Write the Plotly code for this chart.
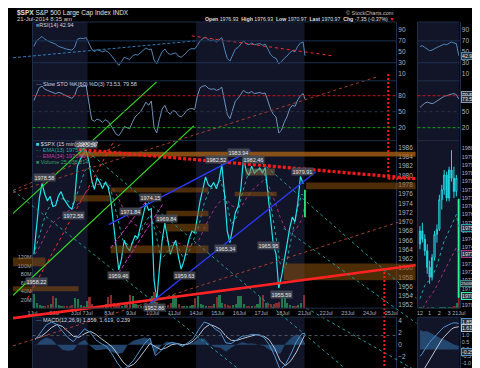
import plotly.graph_objects as go

W, H = 480, 368

# ---------------- data ----------------
session_labels = ["1Jul", "2Jul", "3Jul", "7Jul", "8Jul", "9Jul", "10Jul", "11Jul", "14Jul",
                  "15Jul", "16Jul", "17Jul", "18Jul", "21Jul", "22Jul", "23Jul", "24Jul", "25Jul"]
session_hours = [6.5, 6.5, 3.5, 6.5, 6.5, 6.5, 6.5, 6.5, 6.5, 6.5, 6.5, 6.5, 6.5, 6.5, 6.5, 6.5, 6.5, 6.5]
traded = session_labels[:13]

price_by_day = {
    "1Jul": [1963.0, 1969.5, 1975.0, 1978.3, 1976.0, 1974.5, 1975.5, 1973.3],
    "2Jul": [1973.5, 1975.5, 1976.5, 1975.0, 1974.0, 1973.2, 1972.7, 1974.6],
    "3Jul": [1982.0, 1983.5, 1984.5, 1985.4],
    "7Jul": [1983.0, 1979.0, 1977.0, 1979.5, 1978.5, 1977.2, 1978.5, 1977.6],
    "8Jul": [1975.0, 1970.0, 1964.0, 1959.6, 1962.0, 1966.0, 1964.5, 1963.7],
    "9Jul": [1965.5, 1967.0, 1966.5, 1969.0, 1971.0, 1974.0, 1972.5, 1972.8],
    "10Jul": [1957.5, 1953.0, 1960.0, 1966.0, 1969.7, 1966.0, 1963.0, 1964.7],
    "11Jul": [1966.0, 1962.5, 1959.8, 1961.5, 1964.0, 1966.5, 1968.0, 1967.6],
    "14Jul": [1971.0, 1974.5, 1977.0, 1979.7, 1978.0, 1977.5, 1978.5, 1977.1],
    "15Jul": [1979.0, 1982.4, 1976.0, 1968.0, 1965.5, 1969.0, 1972.0, 1973.3],
    "16Jul": [1977.0, 1983.8, 1981.0, 1980.0, 1982.0, 1980.5, 1981.0, 1981.6],
    "17Jul": [1980.5, 1981.7, 1976.0, 1970.0, 1965.0, 1963.0, 1955.7, 1958.1],
    "18Jul": [1962.0, 1965.0, 1968.5, 1971.0, 1970.0, 1974.0, 1979.8, 1978.2],
}
volume_by_day = {  # millions
    "1Jul": [34, 12, 8, 7, 6, 8, 11, 30],
    "2Jul": [26, 9, 6, 5, 5, 6, 9, 24],
    "3Jul": [22, 8, 6, 18],
    "7Jul": [28, 10, 7, 6, 6, 7, 10, 27],
    "8Jul": [32, 14, 10, 9, 7, 8, 12, 33],
    "9Jul": [30, 11, 8, 6, 6, 7, 10, 29],
    "10Jul": [38, 16, 10, 8, 7, 8, 12, 31],
    "11Jul": [29, 10, 7, 6, 6, 6, 9, 26],
    "14Jul": [30, 11, 8, 6, 6, 7, 10, 27],
    "15Jul": [32, 13, 10, 9, 7, 8, 11, 30],
    "16Jul": [30, 11, 7, 6, 6, 7, 10, 28],
    "17Jul": [31, 12, 10, 11, 10, 12, 16, 36],
    "18Jul": [34, 13, 9, 7, 7, 8, 12, 32],
}
rsi_by_day = {
    "1Jul": [60, 70, 74, 78, 73, 70, 68, 66],
    "2Jul": [64, 60, 58, 56, 55, 54, 53, 58],
    "3Jul": [73, 75, 74, 76],
    "7Jul": [65, 55, 50, 54, 52, 50, 52, 50],
    "8Jul": [45, 38, 30, 25, 32, 40, 38, 36],
    "9Jul": [42, 45, 44, 48, 52, 57, 54, 55],
    "10Jul": [35, 28, 40, 50, 55, 48, 45, 47],
    "11Jul": [48, 42, 40, 44, 50, 54, 56, 55],
    "14Jul": [62, 70, 74, 77, 72, 70, 72, 68],
    "15Jul": [72, 76, 55, 38, 33, 45, 55, 58],
    "16Jul": [64, 70, 65, 63, 66, 63, 64, 65],
    "17Jul": [62, 64, 55, 45, 40, 38, 28, 32],
    "18Jul": [38, 42, 48, 52, 50, 60, 66, 68],
}
sto_by_day = {
    "1Jul": [71, 85, 95, 98, 92, 90, 88, 86],
    "2Jul": [84, 86, 85, 82, 80, 78, 75, 80],
    "3Jul": [95, 98, 97, 99],
    "7Jul": [70, 35, 32, 36, 34, 30, 35, 32],
    "8Jul": [25, 15, 8, 5, 12, 22, 20, 18],
    "9Jul": [30, 40, 45, 50, 58, 68, 62, 70],
    "10Jul": [20, 10, 35, 55, 62, 50, 45, 52],
    "11Jul": [50, 43, 40, 45, 52, 55, 56, 54],
    "14Jul": [80, 95, 98, 99, 94, 92, 93, 90],
    "15Jul": [92, 96, 70, 45, 37, 55, 70, 75],
    "16Jul": [82, 90, 86, 85, 88, 84, 85, 86],
    "17Jul": [84, 85, 70, 55, 45, 40, 10, 15],
    "18Jul": [30, 40, 55, 62, 60, 72, 80, 84],
}
macd_by_day = {
    "1Jul": [0.8, 2.0, 3.2, 3.7], "2Jul": [3.3, 2.2, 1.2, 0.5], "3Jul": [1.5, 2.6],
    "7Jul": [2.0, 0.8, 0.2, -0.3], "8Jul": [-1.5, -3.0, -4.1, -3.5], "9Jul": [-2.5, -1.2, 0.2, 1.1],
    "10Jul": [-1.8, -1.0, 0.0, 0.4], "11Jul": [0.2, -0.3, 0.3, 1.0], "14Jul": [2.5, 3.7, 3.4, 2.6],
    "15Jul": [2.0, 0.3, 0.2, 0.8], "16Jul": [1.4, 1.5, 1.7, 1.6], "17Jul": [1.2, 0.0, -1.8, -4.1],
    "18Jul": [-3.2, -1.5, 0.5, 1.8],
}
signal_by_day = {
    "1Jul": [1.0, 1.3, 2.0, 2.8], "2Jul": [3.3, 3.0, 2.2, 1.4], "3Jul": [1.2, 1.8],
    "7Jul": [2.2, 1.7, 1.0, 0.4], "8Jul": [-0.3, -1.5, -2.8, -3.6], "9Jul": [-3.2, -2.2, -1.0, 0.2],
    "10Jul": [-0.3, -0.8, -0.5, 0.0], "11Jul": [0.2, 0.0, 0.1, 0.6], "14Jul": [1.5, 2.7, 3.3, 3.0],
    "15Jul": [2.5, 1.4, 0.7, 0.7], "16Jul": [1.0, 1.3, 1.5, 1.6], "17Jul": [1.4, 0.8, -0.6, -2.6],
    "18Jul": [-3.4, -2.6, -1.2, 0.6],
}
ema13_by_day = {
    "1Jul": [1964, 1968, 1972, 1974], "2Jul": [1974.5, 1975, 1974.5, 1973.8], "3Jul": [1977, 1981],
    "7Jul": [1982, 1980, 1979, 1978.5], "8Jul": [1976, 1971, 1966, 1965], "9Jul": [1965.5, 1967, 1969.5, 1971.5],
    "10Jul": [1968, 1962, 1963, 1965], "11Jul": [1965, 1962.5, 1963, 1966], "14Jul": [1969, 1974, 1977, 1977.5],
    "15Jul": [1979, 1975, 1969.5, 1971], "16Jul": [1976, 1980, 1981, 1981.3], "17Jul": [1981, 1976, 1968, 1961],
    "18Jul": [1960, 1966, 1972, 1976],
}
ema34_by_day = {
    "1Jul": [1963, 1965, 1967.5, 1969.5], "2Jul": [1970.5, 1971.5, 1972.3, 1972.8], "3Jul": [1974, 1976],
    "7Jul": [1977.5, 1978, 1978.2, 1978.3], "8Jul": [1977.5, 1975.5, 1973, 1971], "9Jul": [1969.5, 1969, 1969.2, 1969.8],
    "10Jul": [1969.5, 1967.5, 1966, 1965.5], "11Jul": [1965.5, 1965, 1964.5, 1965], "14Jul": [1966, 1968.5, 1971, 1973],
    "15Jul": [1974.5, 1975, 1973.5, 1973], "16Jul": [1973.5, 1975.5, 1977, 1978], "17Jul": [1979, 1977.5, 1974.5, 1971],
    "18Jul": [1968.5, 1967.5, 1968.5, 1970.5],
}
last_bar = dict(day="21Jul", open=1976.93, last=1970.97, rsi=42.94, sto_k=73.53, sto_d=79.58,
                macd=1.859, signal=1.619, ema13=1975.20, ema34=1973.60, volume=25.04)

# labelled highs / lows: (text, session, fraction of session, price)
price_labels = [
    ("1978.58", "1Jul", 0.54, 1979.6), ("1972.58", "2Jul", 0.89, 1971.4), ("1985.59", "3Jul", 0.9, 1986.6),
    ("1959.46", "8Jul", 0.42, 1958.4), ("1971.84", "8Jul", 0.98, 1972.3), ("1974.15", "9Jul", 0.88, 1975.3),
    ("1952.86", "10Jul", 0.1, 1951.6), ("1969.84", "10Jul", 0.62, 1970.7), ("1959.63", "11Jul", 0.45, 1958.5),
    ("1982.52", "14Jul", 0.95, 1983.4), ("1983.94", "15Jul", 0.95, 1984.9), ("1965.34", "15Jul", 0.35, 1964.3),
    ("1982.46", "16Jul", 0.63, 1983.4), ("1965.95", "17Jul", 0.35, 1964.9), ("1955.59", "17Jul", 0.95, 1954.2),
    ("1979.91", "18Jul", 0.9, 1980.9), ("1958.22", "1Jul", 0.2, 1957.2),
]

# drawn trend lines on the price panel: (day0, price0, day1, price1, style)
price_lines = [
    (2.12, 1985.6, 17.66, 1979.3, "red_dots"),
    (-0.90, 1949.2, 17.66, 1960.6, "red_solid"),
    (-0.90, 1971.8, 5.72, 2000.2, "green"),
    (-0.90, 1954.15, 7.43, 1990.7, "green"),
    (-0.23, 1953.5, 3.74, 1987.3, "red_dash"),
    (-0.90, 1976.75, 4.05, 1986.65, "brown"),
    (-0.90, 1976.3, 15.90, 2001.3, "brown"),
    (-0.90, 1943.2, 17.25, 1970.5, "brown"),
    (3.51, 1969.4, 10.05, 1985.4, "blue"),
    (5.27, 1951.8, 13.06, 1980.8, "blue"),
    (3.60, 1964.3, 5.41, 1975.5, "magenta"),
    (3.96, 1958.9, 5.99, 1973.7, "magenta"),
    (2.57, 1985.1, 14.82, 1936.7, "teal"),
    (-0.90, 1976.75, 9.91, 1936.7, "teal"),
    (10.36, 1983.6, 17.70, 1953.5, "teal"),
    (11.58, 1968.6, 17.70, 1948.1, "teal"),
    (12.61, 1951.4, 17.70, 1937.8, "teal"),
    (16.40, 2001.9, 16.40, 1979.3, "red_vert"),
    (16.40, 1979.3, 17.66, 1979.3, "red_vert"),
    (16.22, 1960.0, 16.22, 1936.7, "red_vert"),
]
rsi_lines = [
    (-0.90, 39.1, 7.52, 70.0, "blue_dash"),
    (7.34, 79.1, 13.83, 42.7, "red_dash"),
]
# support / resistance zones: (day0, day1, price_low, price_high, style)
zones = [
    (2.12, 17.66, 1984.1, 1985.1, "bright"),
    (1.89, 3.60, 1974.4, 1975.7, "zone"),
    (3.60, 8.11, 1976.3, 1977.4, "zone"),
    (12.61, 17.66, 1977.0, 1978.5, "zone"),
    (9.82, 11.17, 1980.0, 1981.5, "pale"),
    (9.32, 11.26, 1975.5, 1976.5, "zone"),
    (6.17, 8.11, 1971.2, 1972.4, "zone"),
    (6.17, 8.11, 1967.9, 1969.6, "zone"),
    (3.60, 8.11, 1963.2, 1964.9, "zone"),
    (-0.90, 0.59, 1960.4, 1962.3, "zone"),
    (-0.90, 2.12, 1955.0, 1956.1, "zone"),
    (11.58, 17.66, 1957.4, 1961.0, "zone"),
]
shaded_sessions = [("1Jul", "3Jul"), ("14Jul", "18Jul")]

# mini (last hours) panel
mini_times = ["12:00", "12:15", "12:30", "12:45", "13:00", "13:15", "13:30", "13:45", "14:00",
              "14:15", "14:30", "14:45", "15:00", "15:15", "15:30", "15:45", "21Jul"]
mini_open = [1974.2, 1975.0, 1974.5, 1973.8, 1972.8, 1972.2, 1973.4, 1974.8, 1975.1, 1976.9, 1977.5, 1978.4, 1977.0, 1978.7, 1978.2, 1977.4, 1976.93]
mini_high = [1975.3, 1975.5, 1974.8, 1974.2, 1973.2, 1973.6, 1975.0, 1975.4, 1977.2, 1977.8, 1978.7, 1978.6, 1978.9, 1979.9, 1978.9, 1978.4, 1976.93]
mini_low = [1973.9, 1974.3, 1973.5, 1972.4, 1971.8, 1972.0, 1973.2, 1974.3, 1975.0, 1976.3, 1977.2, 1976.8, 1976.8, 1978.0, 1977.0, 1977.1, 1970.97]
mini_close = [1975.0, 1974.5, 1973.8, 1972.8, 1972.2, 1973.4, 1974.8, 1975.1, 1976.9, 1977.5, 1978.4, 1977.0, 1978.7, 1978.2, 1977.4, 1978.2, 1970.97]
mini_volume = [3, 2, 2, 3, 2, 3, 2, 2, 4, 3, 3, 2, 3, 4, 6, 12, 25]
mini_ema13 = [1970.9, 1971.3, 1971.7, 1971.9, 1972.0, 1972.2, 1972.5, 1972.9, 1973.4, 1973.9, 1974.4, 1974.7, 1975.0, 1975.4, 1975.7, 1976.0, 1975.2]
mini_ema34 = [1970.0, 1970.3, 1970.6, 1970.8, 1971.0, 1971.2, 1971.4, 1971.7, 1972.0, 1972.3, 1972.6, 1972.9, 1973.2, 1973.5, 1973.8, 1974.0, 1973.6]
mini_rsi = [60, 61, 58, 55, 52, 53, 56, 58, 60, 62, 64, 63, 66, 68, 66, 65, 42.94]
mini_sto = [58, 62, 66, 68, 66, 65, 67, 70, 73, 76, 79, 80, 82, 83, 84, 82, 73.53]
mini_macd = [-0.5, -0.3, 0.0, 0.3, 0.5, 0.7, 0.9, 1.1, 1.3, 1.45, 1.6, 1.7, 1.8, 1.85, 1.9, 1.9, 1.859]
mini_signal = [-1.9, -1.6, -1.3, -1.0, -0.7, -0.4, -0.1, 0.2, 0.45, 0.7, 0.9, 1.1, 1.3, 1.45, 1.55, 1.6, 1.619]

# ---------------- geometry ----------------
X_DOM = [20 / W, 392 / W]
MINI_DOM = [414 / W, 457 / W]
RSI_DOM = [1 - 72 / H, 1 - 13 / H]
STO_DOM = [1 - 132 / H, 1 - 72 / H]
PRICE_DOM = [1 - 300 / H, 1 - 132 / H]
MACD_DOM = [0, 1 - 309 / H]
X_RANGE = [0, 16.757]
PRICE_RANGE = [1951.35, 1987.51]
RSI_RANGE = [-3, 104.5]
STO_RANGE = [-4.4, 108]
MACD_RANGE = [-5.1, 4.5]
VOL_RANGE = [0, 395]
MINI_PRICE_RANGE = [1970.32, 1980.48]
MINI_MACD_RANGE = [-1.9, 2.3]
MINI_X_RANGE = [-1, 16.3]


def extend(rng, dom):
    a, b = rng
    d0, d1 = dom
    s = (b - a) / (d1 - d0)
    return [a - d0 * s, b + (1 - d1) * s]


start, length = {}, {}
acc = 0.0
for lab, hrs in zip(session_labels, session_hours):
    start[lab] = acc
    length[lab] = hrs / 6.5
    acc += hrs / 6.5


def series(d):
    xs, ys = [], []
    for day in traded:
        vals = d[day]
        n = len(vals)
        for i, v in enumerate(vals):
            xs.append(start[day] + length[day] * (i + 0.5) / n)
            ys.append(v)
    return xs, ys


x_last = start[last_bar["day"]] + 0.5 / 26

px_x, px_y = series(price_by_day)
vx, vy = series(volume_by_day)
rx, ry = series(rsi_by_day)
sx, sy = series(sto_by_day)
mx, my = series(macd_by_day)
gx, gy = series(signal_by_day)
e13x, e13y = series(ema13_by_day)
e34x, e34y = series(ema34_by_day)

vol_colors = []
prev = px_y[0]
for v in px_y:
    vol_colors.append("rgba(35,125,80,0.95)" if v >= prev else "rgba(140,45,45,0.95)")
    prev = v

BG = "#000000"
SHADE = "#121428"
BORDER = "#1d2f48"
TICKC = "#aab4c4"
FONT = "Liberation Sans, Arial, sans-serif"

fig = go.Figure()

# ---- price panel ----
fig.add_trace(go.Bar(x=vx, y=vy, marker_color=vol_colors, marker_line_width=0, width=0.1,
                     xaxis="x", yaxis="y5"))
fig.add_trace(go.Scatter(x=e34x + [x_last], y=e34y + [last_bar["ema34"]], mode="lines",
                         line=dict(color="#b0308a", width=1, dash="dot"), xaxis="x", yaxis="y"))
fig.add_trace(go.Scatter(x=e13x + [x_last], y=e13y + [last_bar["ema13"]], mode="lines",
                         line=dict(color="#1ea8a8", width=1, dash="dot"), xaxis="x", yaxis="y"))
fig.add_trace(go.Scatter(x=px_x, y=px_y, mode="lines", line=dict(color="#22e4ec", width=1.2),
                         xaxis="x", yaxis="y"))
fig.add_trace(go.Scatter(x=[x_last, x_last], y=[last_bar["open"], last_bar["last"]], mode="lines",
                         line=dict(color="#33ff88", width=1.6), xaxis="x", yaxis="y"))

# ---- RSI ----
fig.add_trace(go.Scatter(x=rx + [x_last], y=ry + [last_bar["rsi"]], mode="lines",
                         line=dict(color="#4f86b8", width=1), xaxis="x", yaxis="y2"))
# ---- STO ----
fig.add_trace(go.Scatter(x=sx + [x_last], y=sy + [last_bar["sto_k"]], mode="lines",
                         line=dict(color="#6f93bd", width=1), xaxis="x", yaxis="y3"))
# ---- MACD ----
hist = [a - b for a, b in zip(my, gy)] + [last_bar["macd"] - last_bar["signal"]]
fig.add_trace(go.Scatter(x=mx + [x_last], y=hist, mode="lines", fill="tozeroy",
                         fillcolor="rgba(40,80,125,0.85)", line=dict(width=0, color="rgba(0,0,0,0)"),
                         xaxis="x", yaxis="y4"))
fig.add_trace(go.Scatter(x=gx + [x_last], y=gy + [last_bar["signal"]], mode="lines",
                         line=dict(color="#b8c4d4", width=1), xaxis="x", yaxis="y4"))
fig.add_trace(go.Scatter(x=mx + [x_last], y=my + [last_bar["macd"]], mode="lines",
                         line=dict(color="#4d95d0", width=1), xaxis="x", yaxis="y4"))

# ---- mini panel ----
mini_vcol = ["rgba(35,125,80,0.95)" if c >= o else "rgba(140,45,45,0.95)" for o, c in zip(mini_open, mini_close)]
fig.add_trace(go.Bar(x=mini_times, y=mini_volume, marker_color=mini_vcol, marker_line_width=0,
                     xaxis="x2", yaxis="y10"))
fig.add_trace(go.Scatter(x=mini_times, y=mini_ema34, mode="lines", line=dict(color="#b0308a", width=1, dash="dot"),
                         xaxis="x2", yaxis="y6"))
fig.add_trace(go.Scatter(x=mini_times, y=mini_ema13, mode="lines", line=dict(color="#1ea8a8", width=1, dash="dot"),
                         xaxis="x2", yaxis="y6"))
fig.add_trace(go.Candlestick(x=mini_times[:-1], open=mini_open[:-1], high=mini_high[:-1], low=mini_low[:-1],
                             close=mini_close[:-1], xaxis="x2", yaxis="y6", whiskerwidth=0,
                             increasing=dict(line=dict(color="#22d4e0", width=1), fillcolor="rgba(0,0,0,0)"),
                             decreasing=dict(line=dict(color="#22d4e0", width=1), fillcolor="#22d4e0")))
fig.add_trace(go.Candlestick(x=mini_times[-1:], open=mini_open[-1:], high=mini_high[-1:], low=mini_low[-1:],
                             close=mini_close[-1:], xaxis="x2", yaxis="y6", whiskerwidth=0,
                             increasing=dict(line=dict(color="#33ff99", width=1), fillcolor="#33ff99"),
                             decreasing=dict(line=dict(color="#33ff99", width=1), fillcolor="#33ff99")))
fig.add_trace(go.Scatter(x=mini_times, y=mini_rsi, mode="lines", line=dict(color="#4f86b8", width=1),
                         xaxis="x2", yaxis="y7"))
fig.add_trace(go.Scatter(x=mini_times, y=mini_sto, mode="lines", line=dict(color="#6f93bd", width=1),
                         xaxis="x2", yaxis="y8"))
mini_hist = [a - b for a, b in zip(mini_macd, mini_signal)]
fig.add_trace(go.Scatter(x=mini_times, y=mini_hist, mode="lines", fill="tozeroy",
                         fillcolor="rgba(40,80,125,0.85)", line=dict(width=0, color="rgba(0,0,0,0)"),
                         xaxis="x2", yaxis="y9"))
fig.add_trace(go.Scatter(x=mini_times, y=mini_signal, mode="lines", line=dict(color="#b8c4d4", width=1),
                         xaxis="x2", yaxis="y9"))
fig.add_trace(go.Scatter(x=mini_times, y=mini_macd, mode="lines", line=dict(color="#4d95d0", width=1),
                         xaxis="x2", yaxis="y9"))

# ---- drawn lines (overlay axes spanning the whole figure) ----
styles = {
    "red_dots": dict(color="#ff1a1a", width=3.2, dash="3px,2px"),
    "red_solid": dict(color="#ff2222", width=2.6),
    "green": dict(color="#33dd22", width=1.2),
    "red_dash": dict(color="#ff2a2a", width=1, dash="3px,3px"),
    "brown": dict(color="#a8402c", width=1, dash="dot"),
    "blue": dict(color="#2a3cff", width=1.3),
    "magenta": dict(color="#cc33cc", width=1, dash="4px,2px"),
    "teal": dict(color="#1f9a9a", width=1, dash="dot"),
    "red_vert": dict(color="#ff1a1a", width=2, dash="2px,2px"),
    "blue_dash": dict(color="#2e7fc0", width=1, dash="3px,2px"),
}
for x0, y0, x1, y1, st in price_lines:
    fig.add_trace(go.Scatter(x=[x0, x1], y=[y0, y1], mode="lines", line=styles[st],
                             xaxis="x3", yaxis="y11"))
for x0, y0, x1, y1, st in rsi_lines:
    fig.add_trace(go.Scatter(x=[x0, x1], y=[y0, y1], mode="lines", line=styles[st],
                             xaxis="x3", yaxis="y12"))

# ---------------- shapes ----------------
shapes = []
for a, b in shaded_sessions:
    for dom in (MACD_DOM, [PRICE_DOM[0], RSI_DOM[1]]):
        shapes.append(dict(type="rect", xref="x", yref="paper", x0=start[a], x1=start[b] + length[b],
                           y0=dom[0], y1=dom[1], fillcolor=SHADE, line_width=0, layer="below"))
for dom in (MACD_DOM, [PRICE_DOM[0], RSI_DOM[1]]):
    shapes.append(dict(type="rect", xref="paper", yref="paper", x0=MINI_DOM[0], x1=MINI_DOM[1],
                       y0=dom[0], y1=dom[1], fillcolor=SHADE, line_width=0, layer="below"))
zone_col = {"zone": "rgba(140,80,15,0.55)", "bright": "rgba(175,100,20,0.75)", "pale": "rgba(150,110,60,0.5)"}
for d0, d1, p0, p1, st in zones:
    shapes.append(dict(type="rect", xref="x3", yref="y11", x0=d0, x1=d1, y0=p0, y1=p1,
                       fillcolor=zone_col[st], line_width=0, layer="below"))
# panel borders
for yv in (RSI_DOM[1], RSI_DOM[0], STO_DOM[0], PRICE_DOM[0], MACD_DOM[1]):
    for dom in (X_DOM, MINI_DOM):
        shapes.append(dict(type="line", xref="paper", yref="paper", x0=dom[0], x1=dom[1], y0=yv, y1=yv,
                           line=dict(color=BORDER, width=1)))
# reference lines
for yv in (30, 70):
    for xr in ("x", "x2"):
        shapes.append(dict(type="line", xref=xr + " domain", yref="y2" if xr == "x" else "y7", x0=0, x1=1,
                           y0=yv, y1=yv, line=dict(color="#1c3252", width=1)))
for xr, yr in (("x", "y3"), ("x2", "y8")):
    shapes.append(dict(type="line", xref=xr + " domain", yref=yr, x0=0, x1=1, y0=80, y1=80,
                       line=dict(color="#c01818", width=1, dash="3px,2px")))
    shapes.append(dict(type="line", xref=xr + " domain", yref=yr, x0=0, x1=1, y0=20, y1=20,
                       line=dict(color="#18a018", width=1, dash="3px,2px")))
    shapes.append(dict(type="line", xref=xr + " domain", yref=yr, x0=0, x1=1, y0=50, y1=50,
                       line=dict(color="#2a3446", width=1, dash="dot")))
shapes.append(dict(type="line", xref="x domain", yref="y4", x0=0, x1=1, y0=1.5, y1=1.5,
                   line=dict(color="#505866", width=1, dash="dot")))

# ---------------- annotations ----------------
ann = []
for txt_, day, frac, pr in price_labels:
    ann.append(dict(x=start[day] + length[day] * frac, y=pr, xref="x", yref="y", text=txt_, showarrow=False,
                    font=dict(size=5.5, color="#e6e6e6"), bgcolor="rgba(70,74,84,0.9)", borderpad=0.5))


def txt(x, y, s, size=6, color="#d0d6e0", anchor="left"):
    ann.append(dict(x=x / W, y=1 - y / H, xref="paper", yref="paper", text=s, showarrow=False,
                    xanchor=anchor, yanchor="middle", font=dict(size=size, color=color)))


txt(2, 4.5, "<b>$SPX</b> S&P 500 Large Cap Index INDX", 6.5, "#e0e0e0")
txt(2, 10.5, "21-Jul-2014 8:35 am", 6, "#d0d0d0")
txt(392, 10.5, "<b>Open</b> 1976.93  <b>High</b> 1976.93  <b>Low</b> 1970.97  <b>Last</b> 1970.97  "
    "<b>Chg</b> -7.35 (-0.37%) <span style='color:#ff2020'>▼</span>", 5.2, "#e0e0e0", "right")
txt(392, 4.5, "© StockCharts.com", 5.5, "#c0c0c0", "right")
txt(21, 16, "<span style='color:#4f86b8'>■</span>RSI(14) 42.94", 5.5)
txt(21, 75, "<span style='color:#6f93bd'>—</span> Slow STO %K(60) %D(3) 73.53, 79.58", 5.5)
txt(21, 135, "<span style='color:#22e4ec'>■</span> $SPX (15 min) 1970.97", 5.5)
txt(21, 141, "<span style='color:#1ea8a8'>- -</span> EMA(13) 1975.20", 5.5, "#1ea8a8")
txt(21, 147, "<span style='color:#b0308a'>- -</span> EMA(34) 1973.60", 5.5, "#c040a0")
txt(21, 153, "<span style='color:#2a8a5a'>■</span> Volume 25,038,214", 5.5, "#3aa070")
txt(21, 312, "<span style='color:#4d95d0'>—</span> MACD(12,26,9) 1.859, 1.619, 0.239", 5.5)


# right-side value boxes on the mini panel
def vbox(yref, val, text, border, size=5.2, right=False):
    ann.append(dict(x=(1.0 if right else MINI_DOM[1] + 1 / W), y=val, xref="paper", yref=yref, text=text,
                    showarrow=False, xanchor=("right" if right else "left"), font=dict(size=size, color="#e8e8e8"),
                    bgcolor="rgba(40,50,60,0.95)", bordercolor=border, borderwidth=1, borderpad=0))


vbox("y7", last_bar["rsi"], "42.94", "#4f86b8")
vbox("y8", 82, "79.58", "#8a9ab0")
vbox("y8", 74, "73.53", "#8a9ab0")
vbox("y6", last_bar["ema13"], "1975.20", "#1ea8a8")
vbox("y6", last_bar["ema34"], "1973.60", "#b0308a")
vbox("y6", 1971.8, "25038214", "#3a8a8a", 4.4, right=True)
vbox("y6", last_bar["last"] + 0.1, "1970.97", "#33ff99")
vbox("y9", 1.95, "1.859", "#4d95d0")
vbox("y9", 1.55, "1.619", "#b8c4d4")
vbox("y9", -0.2, "-0.259", "#4d95d0")

# ---------------- axes ----------------
tickfont = dict(size=6.5, color=TICKC, family=FONT)
ticks_x = [start[s] for s in session_labels]


def yax(dom, rng, tickvals, anchor, ticktext=None, side="right", **kw):
    d = dict(domain=dom, range=rng, tickvals=tickvals, anchor=anchor, side=side, showgrid=False,
             zeroline=False, showline=True, linecolor=BORDER, mirror=True, ticks="", tickfont=tickfont,
             fixedrange=True)
    if ticktext is not None:
        d["ticktext"] = ticktext
    d.update(kw)
    return d


fig.update_layout(
    width=W, height=H, margin=dict(l=0, r=0, t=0, b=0), paper_bgcolor=BG, plot_bgcolor="rgba(0,0,0,0)",
    font=dict(family=FONT, color="#d0d6e0"), showlegend=False, bargap=0,
    xaxis=dict(domain=X_DOM, range=X_RANGE, anchor="y", tickvals=ticks_x, ticktext=session_labels,
               showgrid=False, zeroline=False, showline=False, ticks="", tickangle=0,
               tickfont=dict(size=5.5, color=TICKC), fixedrange=True),
    xaxis2=dict(domain=MINI_DOM, range=MINI_X_RANGE, anchor="y6", type="category", categoryorder="array",
                categoryarray=mini_times, tickvals=["12:00", "13:00", "14:00", "15:00", "21Jul"],
                ticktext=["12", "1", "2", "3", "21Jul"], showgrid=False, zeroline=False, ticks="", tickangle=0,
                tickfont=dict(size=5.5, color=TICKC), rangeslider=dict(visible=False), fixedrange=True),
    xaxis3=dict(domain=[0, 1], range=extend(X_RANGE, X_DOM), anchor="y11", visible=False, fixedrange=True),
    yaxis=yax(PRICE_DOM, PRICE_RANGE, list(range(1952, 1988, 2)), "x"),
    yaxis2=yax(RSI_DOM, RSI_RANGE, [10, 30, 50, 70, 90], "x"),
    yaxis3=yax(STO_DOM, STO_RANGE, [20, 50, 80], "x"),
    yaxis4=yax(MACD_DOM, MACD_RANGE, [-4, -2, 0, 2, 4], "x"),
    yaxis5=dict(overlaying="y", range=VOL_RANGE, side="left", anchor="x", tickvals=[20, 40, 60, 80, 100, 120],
                ticktext=["20M", "40M", "60M", "80M", "100M", "120M"], showgrid=False, zeroline=False,
                showline=False, ticks="", tickfont=dict(size=5.5, color=TICKC), fixedrange=True),
    yaxis6=yax(PRICE_DOM, MINI_PRICE_RANGE, [1970.5 + 0.5 * i for i in range(20)], "x2",
               ticktext=["%.1f" % (1970.5 + 0.5 * i) for i in range(20)], tickfont=dict(size=5.5, color=TICKC)),
    yaxis7=yax(RSI_DOM, RSI_RANGE, [10, 30, 50, 70, 90], "x2"),
    yaxis8=yax(STO_DOM, STO_RANGE, [20, 50, 80], "x2"),
    yaxis9=yax(MACD_DOM, MINI_MACD_RANGE, [-1.5, -1.0, -0.5, 0, 0.5, 1.0, 1.5, 2.0], "x2",
               ticktext=["-1.5", "-1.0", "-0.5", "0.0", "0.5", "1.0", "1.5", "2.0"],
               tickfont=dict(size=5.5, color=TICKC)),
    yaxis10=dict(overlaying="y6", range=VOL_RANGE, visible=False, fixedrange=True),
    yaxis11=dict(domain=[0, 1], range=extend(PRICE_RANGE, PRICE_DOM), anchor="x3", visible=False, fixedrange=True),
    yaxis12=dict(domain=[0, 1], range=extend(RSI_RANGE, RSI_DOM), anchor="x3", visible=False, fixedrange=True,
                 overlaying="y11"),
    shapes=shapes, annotations=ann,
)

fig.write_html("out.html")
